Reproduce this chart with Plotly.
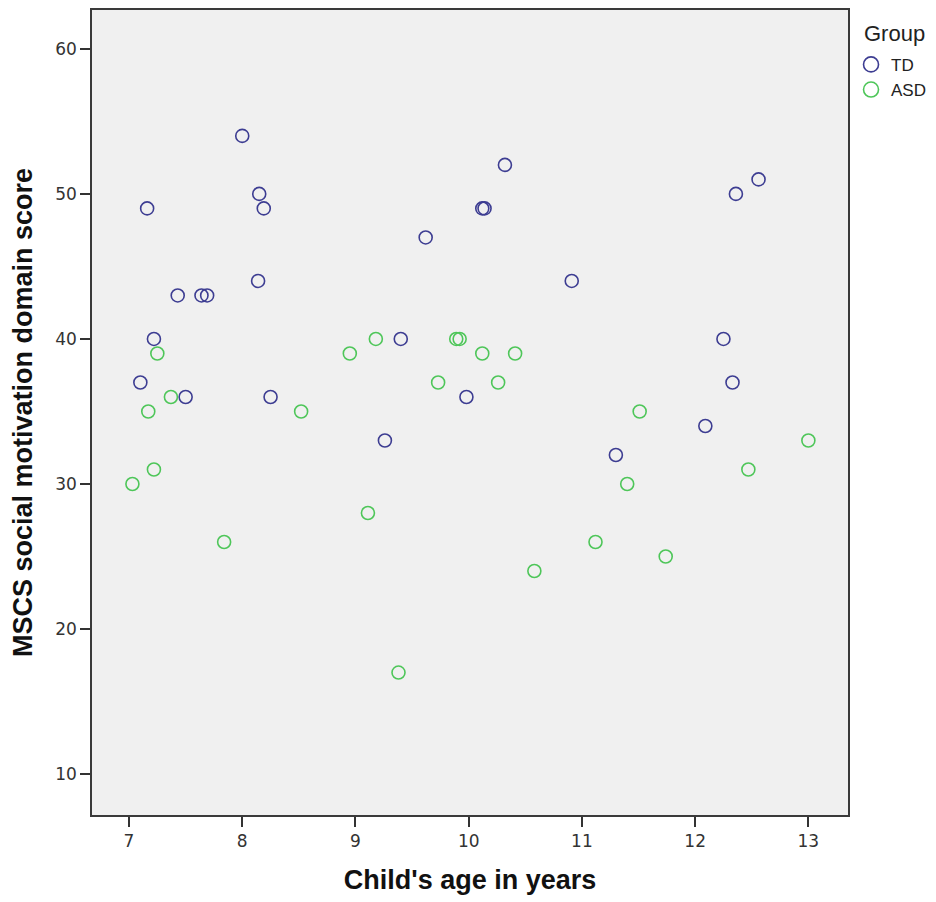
import plotly.graph_objects as go

td_age = [8.00, 7.16, 8.15, 8.19, 8.14, 7.43, 7.64, 7.69, 7.22, 7.10, 7.50, 8.25,
          9.40, 9.26, 9.62, 10.12, 10.14, 10.32, 9.98, 10.91, 11.30, 12.09, 12.25,
          12.33, 12.36, 12.56]
td_score = [54, 49, 50, 49, 44, 43, 43, 43, 40, 37, 36, 36,
            40, 33, 47, 49, 49, 52, 36, 44, 32, 34, 40,
            37, 50, 51]

asd_age = [7.03, 7.17, 7.22, 7.25, 7.37, 7.84, 8.52, 8.95, 9.11, 9.18, 9.38, 9.73,
           9.89, 9.92, 10.12, 10.26, 10.41, 10.58, 11.12, 11.40, 11.51, 11.74, 12.47, 13.00]
asd_score = [30, 35, 31, 39, 36, 26, 35, 39, 28, 40, 17, 37,
             40, 40, 39, 37, 39, 24, 26, 30, 35, 25, 31, 33]

x_ticks = [7, 8, 9, 10, 11, 12, 13]
y_ticks = [10, 20, 30, 40, 50, 60]

TD_COLOR = "#3d3d92"
ASD_COLOR = "#4ec659"

fig = go.Figure()
fig.add_trace(go.Scatter(
    x=td_age, y=td_score, mode="markers", name="TD", showlegend=False,
    marker=dict(symbol="circle-open", size=13, color=TD_COLOR, line=dict(width=1.6, color=TD_COLOR)),
))
fig.add_trace(go.Scatter(
    x=asd_age, y=asd_score, mode="markers", name="ASD", showlegend=False,
    marker=dict(symbol="circle-open", size=13, color=ASD_COLOR, line=dict(width=1.6, color=ASD_COLOR)),
))
# legend entries (larger symbols, as in the reference legend)
fig.add_trace(go.Scatter(
    x=[None], y=[None], mode="markers", name="TD",
    marker=dict(symbol="circle-open", size=15, color=TD_COLOR, line=dict(width=1.6, color=TD_COLOR)),
))
fig.add_trace(go.Scatter(
    x=[None], y=[None], mode="markers", name="ASD",
    marker=dict(symbol="circle-open", size=15, color=ASD_COLOR, line=dict(width=1.6, color=ASD_COLOR)),
))

tick_font = dict(family="DejaVu Sans, sans-serif", size=17, color="#333")
title_font = dict(family="Liberation Sans, Arial, sans-serif", size=27, color="#111")

fig.update_layout(
    width=936, height=902,
    margin=dict(l=84, r=96, t=0, b=95),
    paper_bgcolor="white",
    plot_bgcolor="#f0f0f0",
    showlegend=True,
    legend=dict(
        font=dict(family="Liberation Sans, Arial, sans-serif", size=17, color="#222"),
        x=1.004, y=0.9542, xanchor="left", yanchor="top", xref="paper", yref="paper",
        bgcolor="rgba(0,0,0,0)", tracegroupgap=0, itemwidth=30,
    ),
    annotations=[dict(
        text="Group", xref="paper", yref="paper", x=1.0185, y=0.9703,
        xanchor="left", yanchor="middle", showarrow=False,
        font=dict(family="Liberation Sans, Arial, sans-serif", size=22, color="#222"),
    )],
    xaxis=dict(
        range=[6.673, 13.35], tickvals=x_ticks, ticktext=[str(v) for v in x_ticks],
        showgrid=False, zeroline=False, ticks="outside", ticklen=10, tickwidth=1.5, tickcolor="#333",
        showline=True, linecolor="#3a3a3a", linewidth=1.6, mirror=True,
        tickfont=tick_font,
        title=dict(text="<b>Child's age in years</b>", font=title_font, standoff=20),
    ),
    yaxis=dict(
        range=[7.18, 62.68], tickvals=y_ticks, ticktext=[str(v) for v in y_ticks],
        showgrid=False, zeroline=False, ticks="outside", ticklen=10, tickwidth=1.5, tickcolor="#333",
        showline=True, linecolor="#3a3a3a", linewidth=1.6, mirror=True,
        tickfont=tick_font,
        title=dict(text="<b>MSCS social motivation domain score</b>", font=title_font, standoff=16),
    ),
)

fig.write_html("out.html")
